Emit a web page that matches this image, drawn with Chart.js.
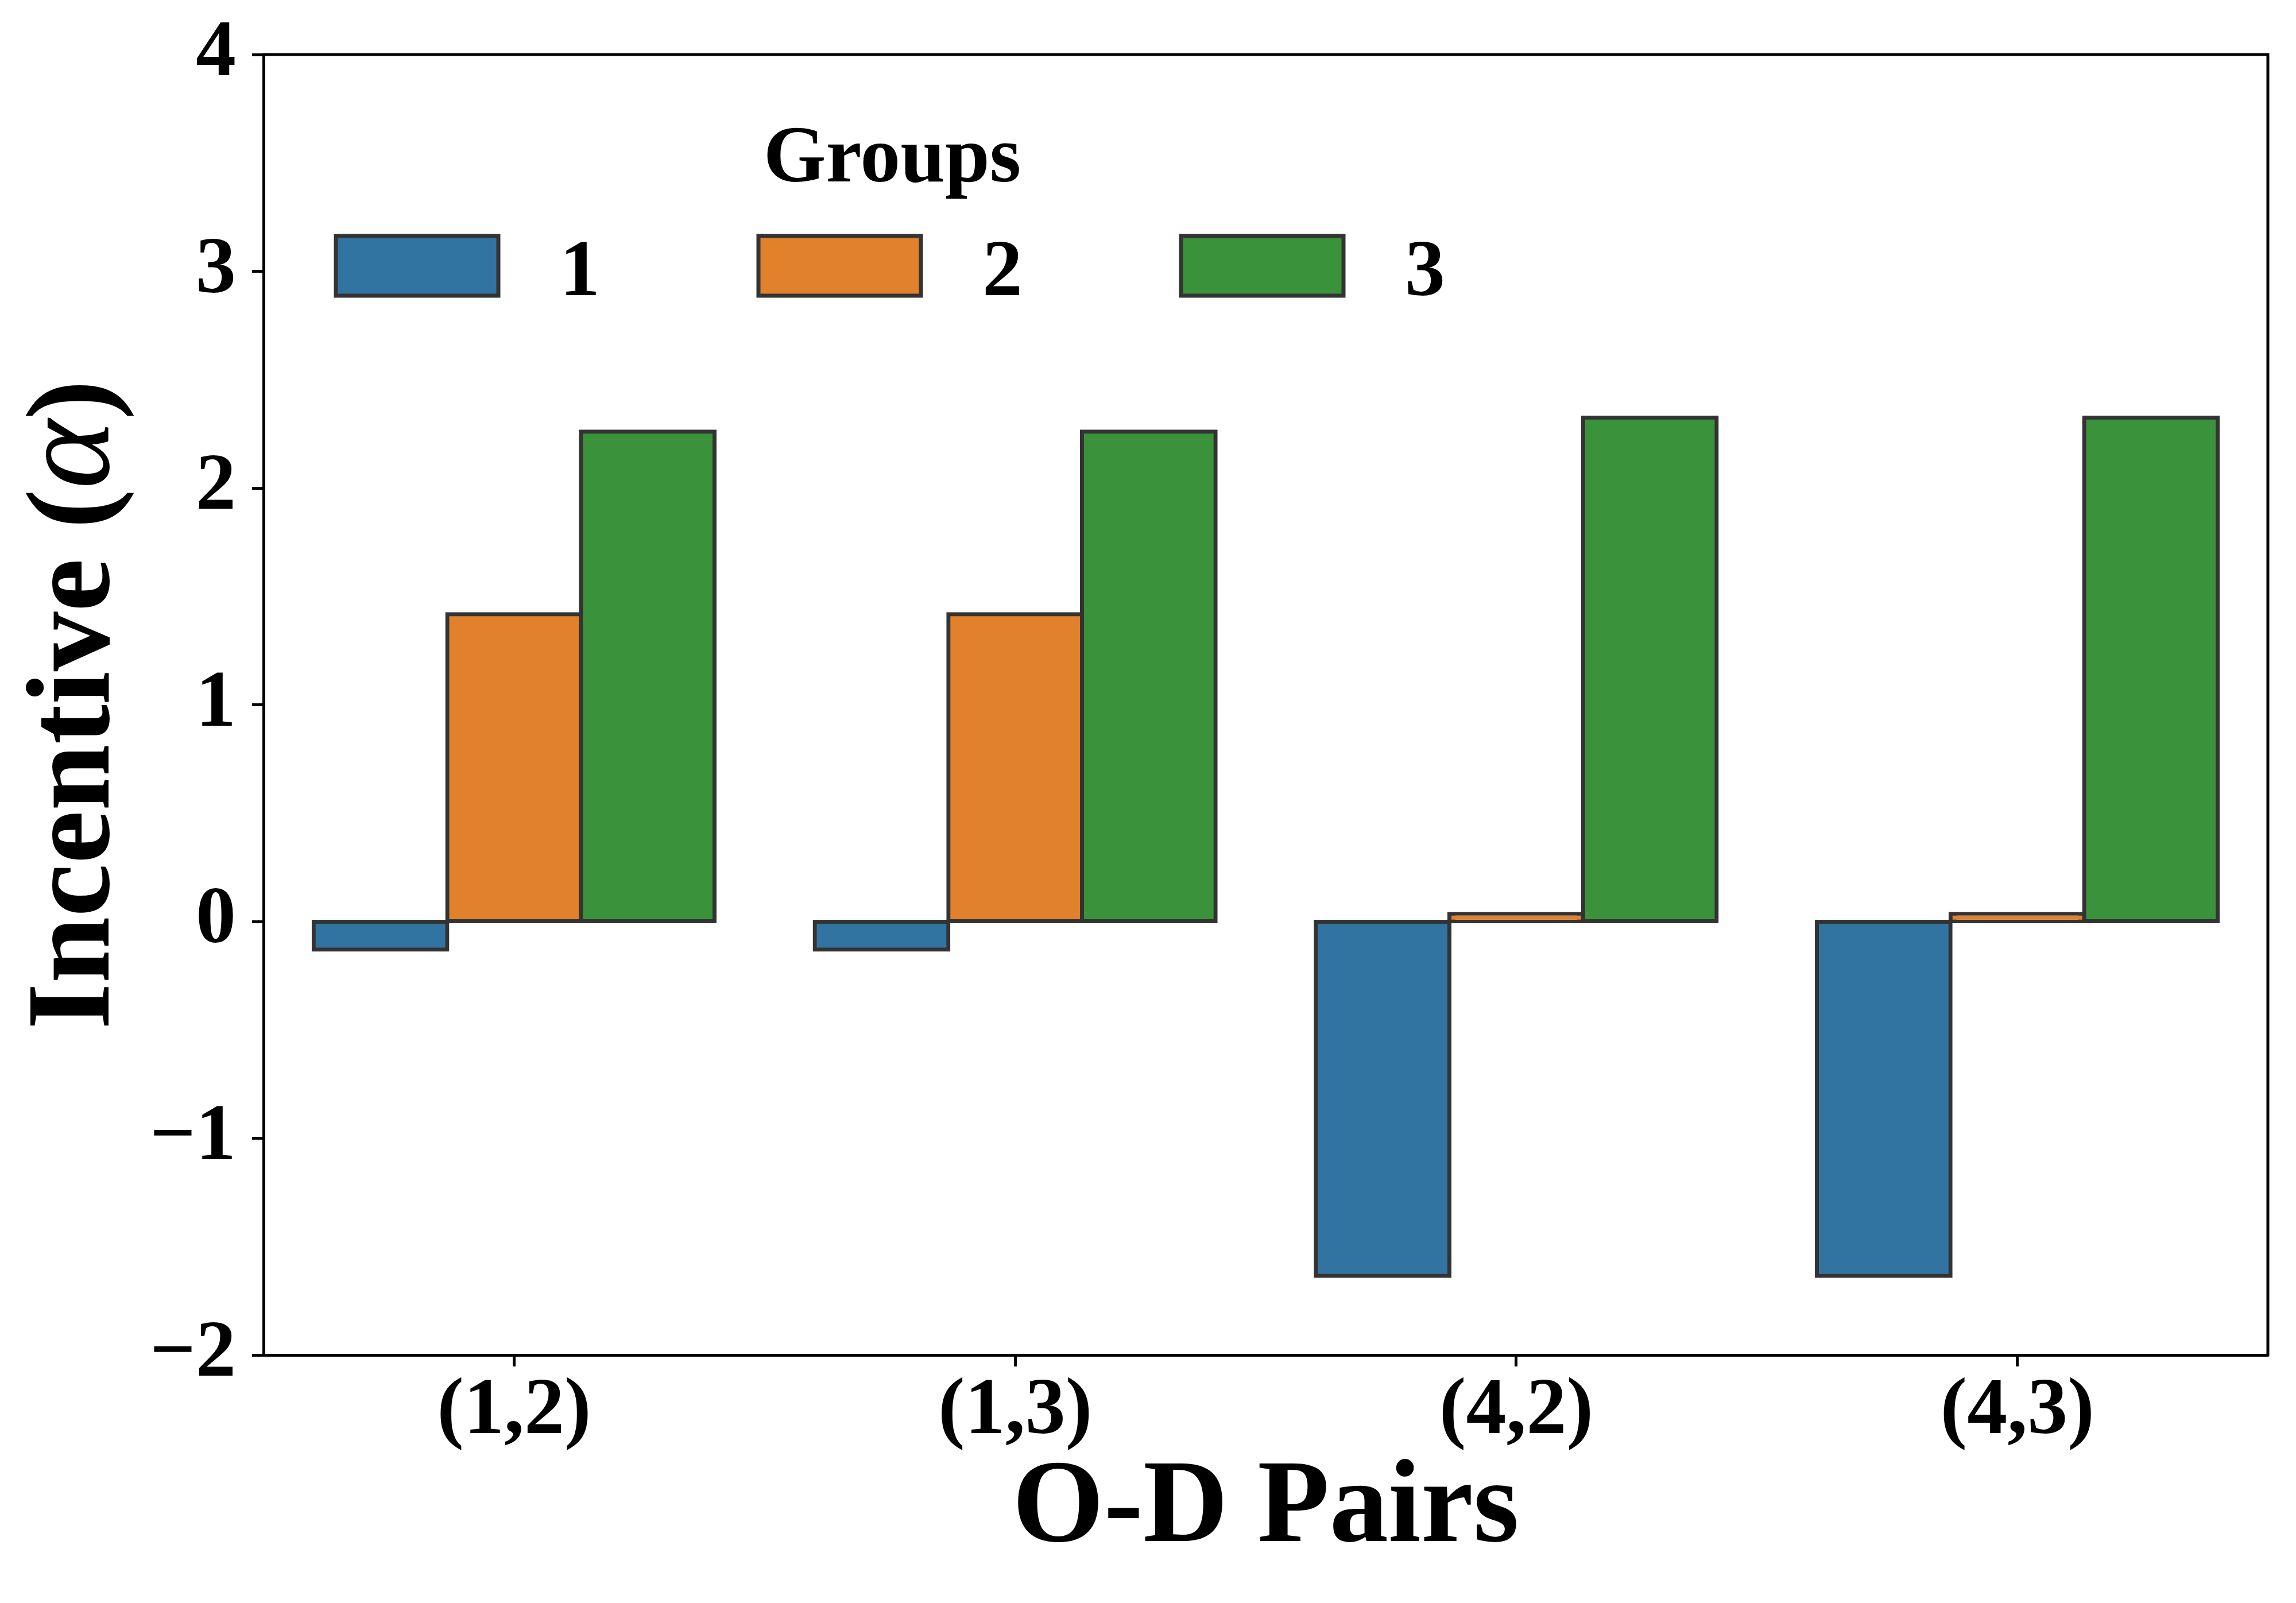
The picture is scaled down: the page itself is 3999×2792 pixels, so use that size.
<!DOCTYPE html>
<html>
<head>
<meta charset="utf-8">
<script src="https://cdn.jsdelivr.net/npm/chart.js@4.4.1/dist/chart.umd.min.js"></script>
<style>
html, body { margin: 0; padding: 0; background: #fff; }
#wrap { width: 3999px; height: 2792px; position: relative; }
</style>
</head>
<body>
<div id="wrap"><canvas id="chart"></canvas></div>
<script>
// Datos del gráfico
const odPairs = ['(1,2)', '(1,3)', '(4,2)', '(4,3)'];
const groupNames = ['1', '2', '3'];
const group1 = [-0.13, -0.13, -1.635, -1.635];
const group2 = [1.418, 1.418, 0.035, 0.035];
const group3 = [2.26, 2.26, 2.325, 2.325];
const groupColors = ['#3274a1', '#e1812c', '#3a923a'];
const yTicks = [-2, -1, 0, 1, 2, 3, 4];

const serif = "'Liberation Serif', 'Times New Roman', serif";
const edgeColor = '#333333';
const edgeWidth = 7;

// Marco superior y derecho (como los spines de matplotlib)
const framePlugin = {
    id: 'frame',
    afterDraw(chart) {
        const { ctx, chartArea: a } = chart;
        ctx.save();
        ctx.strokeStyle = '#000';
        ctx.lineWidth = 5;
        ctx.beginPath();
        ctx.moveTo(a.left - 2.5, a.top);
        ctx.lineTo(a.right, a.top);
        ctx.lineTo(a.right, a.bottom + 2.5);
        ctx.stroke();
        ctx.restore();
    }
};

// Leyenda dentro del área del gráfico
const legendPlugin = {
    id: 'groupsLegend',
    afterDraw(chart) {
        const ctx = chart.ctx;
        ctx.save();
        ctx.fillStyle = '#000';
        ctx.font = 'bold 140px ' + serif;
        ctx.textAlign = 'center';
        ctx.textBaseline = 'alphabetic';
        ctx.fillText('Groups', 1554, 316);
        chart.data.datasets.forEach((ds, i) => {
            const x = 585 + i * 736;
            ctx.fillStyle = ds.backgroundColor;
            ctx.fillRect(x, 411, 283, 104);
            ctx.strokeStyle = edgeColor;
            ctx.lineWidth = edgeWidth;
            ctx.strokeRect(x, 411, 283, 104);
            ctx.fillStyle = '#000';
            ctx.textAlign = 'left';
            ctx.fillText(ds.label, x + 390, 514);
        });
        ctx.restore();
    }
};

// Título del eje Y con alfa en cursiva
const yTitlePlugin = {
    id: 'yTitle',
    afterDraw(chart) {
        const { ctx, chartArea: a } = chart;
        const parts = [
            { t: 'Incentive (', f: 'bold 208px ' + serif },
            { t: '\u03b1', f: 'italic 230px ' + serif },
            { t: ')', f: 'bold 208px ' + serif }
        ];
        ctx.save();
        let total = 0;
        parts.forEach(p => { ctx.font = p.f; p.w = ctx.measureText(p.t).width; total += p.w; });
        ctx.translate(189, (a.top + a.bottom) / 2);
        ctx.rotate(-Math.PI / 2);
        ctx.fillStyle = '#000';
        ctx.textBaseline = 'alphabetic';
        ctx.textAlign = 'left';
        let x = -total / 2;
        parts.forEach(p => { ctx.font = p.f; ctx.fillText(p.t, x, 0); x += p.w; });
        ctx.restore();
    }
};

const ctx = document.getElementById('chart').getContext('2d');

new Chart(ctx, {
    type: 'bar',
    data: {
        labels: odPairs,
        datasets: [group1, group2, group3].map((values, i) => ({
            label: groupNames[i],
            data: values,
            backgroundColor: groupColors[i],
            borderColor: edgeColor,
            borderWidth: edgeWidth,
            borderSkipped: false,
            inflateAmount: edgeWidth / 2,
            categoryPercentage: 0.8,
            barPercentage: 1.0
        }))
    },
    options: {
        responsive: true,
        maintainAspectRatio: false,
        devicePixelRatio: 1,
        animation: false,
        layout: { padding: { top: 95, right: 49, left: 0, bottom: 0 } },
        plugins: {
            legend: { display: false },
            tooltip: { enabled: false }
        },
        scales: {
            x: {
                afterFit: s => { s.height = 432; },
                grid: {
                    offset: false,
                    drawOnChartArea: false,
                    tickLength: 20,
                    tickWidth: 5,
                    tickColor: '#000'
                },
                border: { display: true, color: '#000', width: 5 },
                ticks: {
                    color: '#000',
                    padding: -4,
                    font: { family: serif, size: 140, weight: 'bold', lineHeight: 1.2 }
                },
                title: {
                    display: true,
                    text: 'O-D Pairs',
                    color: '#000',
                    font: { family: serif, size: 205, weight: 'bold', lineHeight: 1 },
                    padding: { top: 0, bottom: 58 }
                }
            },
            y: {
                min: -2,
                max: 4,
                afterFit: s => { s.width = 459; },
                afterBuildTicks: s => { s.ticks = yTicks.map(v => ({ value: v })); },
                grid: {
                    drawOnChartArea: false,
                    tickLength: 20,
                    tickWidth: 5,
                    tickColor: '#000'
                },
                border: { display: true, color: '#000', width: 5 },
                ticks: {
                    color: '#000',
                    padding: 28,
                    font: { family: serif, size: 140, weight: 'bold', lineHeight: 0.9 },
                    callback: v => v < 0 ? '\u2212' + Math.abs(v) : String(v)
                }
            }
        }
    },
    plugins: [framePlugin, legendPlugin, yTitlePlugin]
});
</script>
</body>
</html>
